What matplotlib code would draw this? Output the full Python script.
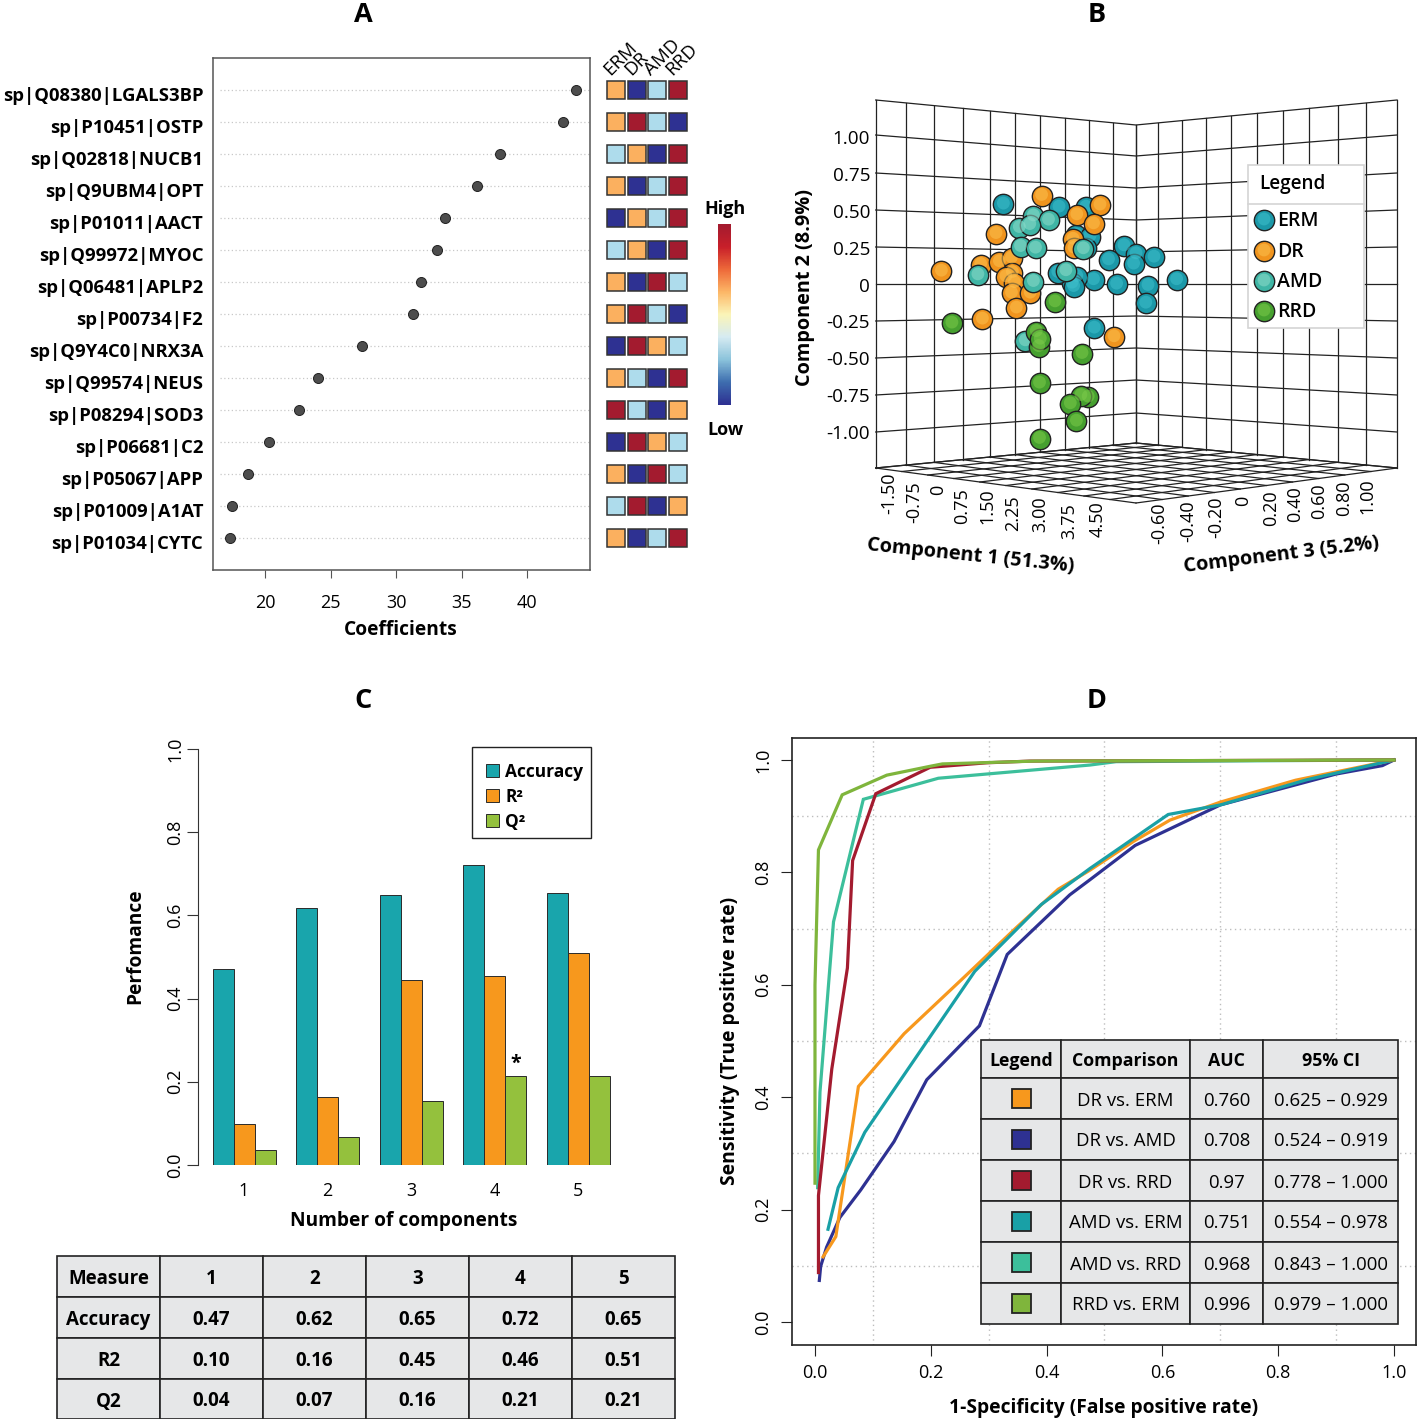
import numpy as np
import matplotlib
matplotlib.use('Agg')
import matplotlib.pyplot as plt
from matplotlib.colors import LinearSegmentedColormap
from matplotlib.patches import Rectangle
from matplotlib.transforms import ScaledTranslation

W, H = 1417, 1419
plt.rcParams['font.family'] = ['Open Sans', 'DejaVu Sans']

# panel A
proteins = ['sp|Q08380|LGALS3BP', 'sp|P10451|OSTP', 'sp|Q02818|NUCB1', 'sp|Q9UBM4|OPT', 'sp|P01011|AACT',
            'sp|Q99972|MYOC', 'sp|Q06481|APLP2', 'sp|P00734|F2', 'sp|Q9Y4C0|NRX3A', 'sp|Q99574|NEUS',
            'sp|P08294|SOD3', 'sp|P06681|C2', 'sp|P05067|APP', 'sp|P01009|A1AT', 'sp|P01034|CYTC']
coefficients = [43.74, 42.75, 37.94, 36.2, 33.75, 33.1, 31.9, 31.3, 27.4, 24.05, 22.6, 20.3, 18.7, 17.5, 17.3]
heat_groups = ['ERM', 'DR', 'AMD', 'RRD']
heat_rows = ['OBLR', 'ORLB', 'LOBR', 'OBLR', 'BOLR', 'LOBR', 'OBRL', 'ORLB', 'BROL', 'OLBR',
             'RLBO', 'BROL', 'OBRL', 'LRBO', 'OBLR']
heat_colors = {'O': '#fbb05f', 'B': '#2e3192', 'L': '#aedcec', 'R': '#a31b2f'}

# panel B, first value of each pair is the position along the flattened picture
erm_h = [1003.4, 1059, 1086, 1076, 1090, 1086, 1124, 1108.5, 1136, 1133.6, 1154, 1176.6, 1148, 1145.8, 1116.6,
         1093.5, 1076.8, 1072, 1073.6, 1057.8, 1094.3]
erm_c2 = [.544, .523, .523, .336, .324, .245, .261, .166, .207, .137, .184, .031, -.008, -.128, .001,
          .031, .053, .008, -.015, .08, -.297]
dr_h = [1041.6, 1100, 1076.8, 1093.5, 996, 1073, 1074, 941.4, 980.7, 999.4, 1011.5, 1012.4, 1005.9, 1014.4,
        1011.5, 1030.2, 1016.4, 982.4, 1114]
dr_c2 = [.602, .537, .471, .41, .344, .306, .245, .089, .134, .153, .178, .08, .051, .012,
         -.06, -.06, -.161, -.236, -.356]
amd_h = [1033.4, 1048.5, 1019.3, 1029.8, 1020.5, 1035.5, 1083.3, 977.9, 1065.9, 1033.4, 1025.3]
amd_c2 = [.464, .435, .385, .405, .256, .245, .241, .064, .092, .019, -.383]
rrd_h = [1055, 951.9, 1036.3, 1038.7, 1040.3, 1082, 1039.5, 1088.2, 1080.9, 1070.3, 1076.4, 1039.5]
rrd_c2 = [-.119, -.263, -.32, -.422, -.372, -.469, -.67, -.765, -.754, -.81, -.928, -1.045]
c2_ticks = [1, .75, .5, .25, 0, -.25, -.5, -.75, -1]
c2_labels = ['1.00', '0.75', '0.50', '0.25', '0', '-0.25', '-0.50', '-0.75', '-1.00']
c1_labels = ['-1.50', '-0.75', '0', '0.75', '1.50', '2.25', '3.00', '3.75', '4.50']
c3_labels = ['-0.60', '-0.40', '-0.20', '0', '0.20', '0.40', '0.60', '0.80', '1.00']

# panel C
components = [1, 2, 3, 4, 5]
accuracy = [.47, .617, .65, .72, .653]
r2 = [.098, .163, .445, .455, .51]
q2 = [.037, .068, .155, .213, .213]
table_c = [['Measure', '1', '2', '3', '4', '5'],
           ['Accuracy', '0.47', '0.62', '0.65', '0.72', '0.65'],
           ['R2', '0.10', '0.16', '0.45', '0.46', '0.51'],
           ['Q2', '0.04', '0.07', '0.16', '0.21', '0.21']]

# panel D
dr_erm_x = [.014, .036, .075, .154, .256, .348, .42, .475, .55, .613, .7, .83, 1]
dr_erm_y = [.116, .152, .419, .513, .612, .702, .77, .804, .855, .893, .925, .964, 1]
dr_amd_x = [.0075, .0098, .02, .043, .079, .1365, .193, .284, .332, .44, .475, .553, .7, .9, .98, 1]
dr_amd_y = [.074, .099, .133, .186, .235, .321, .431, .527, .654, .76, .787, .848, .92, .975, .99, 1]
dr_rrd_x = [.006, .006, .029, .056, .065, .105, .199, .297, .371, 1]
dr_rrd_y = [.088, .225, .45, .63, .821, .94, .987, .995, .998, 1]
amd_erm_x = [.0225, .04, .086, .276, .391, .475, .61, .7, .85, 1]
amd_erm_y = [.165, .239, .3375, .624, .743, .807, .903, .92, .965, 1]
amd_rrd_x = [.0046, .0086, .032, .0835, .213, .475, .52, 1]
amd_rrd_y = [.239, .409, .712, .93, .9675, .991, .997, 1]
rrd_erm_x = [0, 0, .006, .047, .124, .2, .22, .38, 1]
rrd_erm_y = [.247, .6, .84, .938, .973, .989, .993, .998, 1]
table_d = [['Legend', 'Comparison', 'AUC', '95% CI'],
           ['', 'DR vs. ERM', '0.760', '0.625 – 0.929'],
           ['', 'DR vs. AMD', '0.708', '0.524 – 0.919'],
           ['', 'DR vs. RRD', '0.97', '0.778 – 1.000'],
           ['', 'AMD vs. ERM', '0.751', '0.554 – 0.978'],
           ['', 'AMD vs. RRD', '0.968', '0.843 – 1.000'],
           ['', 'RRD vs. ERM', '0.996', '0.979 – 1.000']]


def px_axes(left, top, right, bottom):
    return fig.add_axes([left/W, 1-bottom/H, (right-left)/W, (bottom-top)/H])


def fill_table(ax, rows, col_widths, row_heights, size):
    ax.axis('off')
    tab = ax.table(cellText=rows, colWidths=col_widths, cellLoc='center', bbox=[0, 0, 1, 1])
    tab.auto_set_font_size(False)
    for (r, c), cell in tab.get_celld().items():
        cell.set_height(row_heights[r])
        cell.set_facecolor('#e6e7e8')
        cell.set_edgecolor('#222222')
        cell.set_linewidth(1.2)
        cell.get_text().set_fontsize(size)
        cell.get_text().set_verticalalignment('center_baseline')
    return tab


def spheres(ax, xs, ys, color, light, zorder):
    ys = np.array(ys)
    ax.scatter(xs, ys, s=215, c=color, edgecolors='#222222', linewidths=1.0, zorder=zorder)
    ax.scatter(xs, ys+.008, s=85, c=light, edgecolors='none', alpha=.55, zorder=zorder)


fig = plt.figure(figsize=(W/100, H/100), dpi=100)
over = fig.add_axes([0, 0, 1, 1], zorder=10)
over.set_xlim(0, W)
over.set_ylim(H, 0)
over.axis('off')
top = fig.add_axes([0, 0, 1, 1], zorder=13)
top.set_xlim(0, W)
top.set_ylim(H, 0)
top.axis('off')

for letter, x, y in [('A', 363, 15), ('B', 1097, 15), ('C', 363, 701), ('D', 1097, 701)]:
    over.text(x, y, letter, fontsize=19.5, fontweight='bold', ha='center', va='center')

# A: dot chart
ax = px_axes(213, 58, 590, 570)
rows = np.arange(15, 0, -1)
ax.hlines(rows, 16.6, 44.8, colors='#c8c8c8', linewidth=.9, linestyles=(0, (1, 2)), zorder=1)
ax.scatter(coefficients, rows, s=52, c='#4d4d4d', edgecolors='#222222', linewidths=.7, zorder=3)
ax.set_xlim(16.03, 44.8)
ax.set_ylim(0, 16)
ax.set_xticks([20, 25, 30, 35, 40])
ax.set_yticks(rows)
ax.set_yticklabels(proteins, fontsize=13.3, fontweight='bold')
ax.tick_params(axis='y', length=0, pad=7)
down = ScaledTranslation(0, -4/100, fig.dpi_scale_trans)
for lab in ax.get_yticklabels():
    lab.set_transform(lab.get_transform()+down)
ax.tick_params(axis='x', labelsize=13, length=6, color='#555555', pad=11)
for s in ax.spines.values():
    s.set_color('#555555')
    s.set_linewidth(1.1)
over.text(401, 630, 'Coefficients', fontsize=13.8, fontweight='bold', ha='center', va='center')

heat = px_axes(606, 58, 688, 570)
heat.set_xlim(606, 688)
heat.set_ylim(0, 16)
heat.axis('off')
heat_x = [616, 636.5, 657, 678]
for row, codes in zip(rows, heat_rows):
    for hx, code in zip(heat_x, codes):
        heat.add_patch(Rectangle((hx-9, row-.28), 18, .56, facecolor=heat_colors[code],
                                 edgecolor='#333333', linewidth=1.1))
for hx, name in zip(heat_x, heat_groups):
    over.text(hx-3, 79, name, fontsize=13.5, rotation=45, rotation_mode='anchor', ha='left', va='bottom')

cbar = px_axes(718, 224, 731, 405)
cmap = LinearSegmentedColormap.from_list('hl', ['#2e3192', '#3f6fb0', '#8cc4dc', '#d6ebf2', '#fbf5b8',
                                                '#fdb767', '#ee6a3a', '#c9202a', '#a31b2f'])
cbar.imshow(np.linspace(1, 0, 200)[:, None], aspect='auto', cmap=cmap)
cbar.axis('off')
over.text(725, 209, 'High', fontsize=13, fontweight='bold', ha='center', va='center')
over.text(725, 430, 'Low', fontsize=13, fontweight='bold', ha='center', va='center')

# B: flattened 3D box
lx = [875.7, 905.7, 934, 962.5, 989.7, 1015, 1040, 1065, 1089, 1112.5, 1136]
rx = [1136, 1158, 1181.5, 1206, 1231, 1257, 1283, 1309, 1337.6, 1366, 1397]
left_y = [100, 135, 173, 210, 247, 284, 321, 358, 395, 432, 468]
mid_y = [125, 156, 188, 220, 252, 284, 316, 348, 380, 413, 443]
wall = dict(color='#222222', linewidth=.9, zorder=1)
for ly, my in zip(left_y, mid_y):
    over.plot([875.7, 1136, 1397], [ly, my, ly], **wall)
for x in lx:
    t = (x-875.7)/260.3
    over.plot([x, x], [100+25*t, 468-25*t], **wall)
for x in rx:
    t = (1397-x)/261
    over.plot([x, x], [100+25*t, 468-25*t], **wall)
for i in range(11):
    t = (lx[i]-875.7)/260.3
    u = i/10
    over.plot([lx[i], 1136+261*u], [468-25*t, 503-35*u], **wall)
    t = (rx[i]-1136)/261
    over.plot([rx[i], 875.7+260.3*u], [443+25*t, 468+35*u], **wall)

bx = px_axes(860, 100, 1410, 468)
bx.patch.set_alpha(0)
bx.set_zorder(11)
bx.set_xlim(860, 1410)
bx.set_ylim(-1.2441, 1.2508)
bx.axis('off')
spheres(bx, erm_h, erm_c2, '#1b98a8', '#3fc0cc', 3)
spheres(bx, dr_h, dr_c2, '#f0941e', '#fbc04f', 4)
spheres(bx, amd_h, amd_c2, '#3fb5a5', '#8fdccb', 5)
spheres(bx, rrd_h, rrd_c2, '#46a02f', '#7ccb4a', 6)
for v, lab in zip(c2_ticks, c2_labels):
    over.text(870, 286.5-147.5*v, lab, fontsize=13.6, ha='right', va='center')

c1_x = [889, 914, 938, 962, 987, 1013, 1040, 1069, 1098]
c1_top = [473, 481, 485, 488, 488, 495, 496, 503, 501]
c3_x = [1159, 1188, 1216, 1243.5, 1271, 1295, 1319, 1344, 1367]
c3_top = [503, 500, 496, 496, 490, 486, 483, 480, 478]
for x, y, lab in zip(c1_x, c1_top, c1_labels):
    over.text(x, y, lab, fontsize=13, rotation=90, ha='center', va='top')
for x, y, lab in zip(c3_x, c3_top, c3_labels):
    over.text(x, y, lab, fontsize=13, rotation=90, ha='center', va='top')
over.text(971, 556, 'Component 1 (51.3%)', fontsize=14.3, fontweight='bold', rotation=-6, ha='center', va='center')
over.text(1281, 555, 'Component 3 (5.2%)', fontsize=14.3, fontweight='bold', rotation=7, ha='center', va='center')
over.text(805, 288, 'Component 2 (8.9%)', fontsize=14.3, fontweight='bold', rotation=90, ha='center', va='center')

over.add_patch(Rectangle((1248, 165), 116, 163, facecolor='white', edgecolor='#d4d4d4', linewidth=1.2, zorder=20))
over.plot([1248, 1364], [204, 204], color='#d4d4d4', linewidth=1.2, zorder=21)
over.text(1259, 184, 'Legend', fontsize=13.6, fontweight='semibold', ha='left', va='center', zorder=21)
leg_y = [220, 251, 281, 311]
leg_names = ['ERM', 'DR', 'AMD', 'RRD']
leg_cols = [('#1b98a8', '#3fc0cc'), ('#f0941e', '#fbc04f'), ('#3fb5a5', '#8fdccb'), ('#46a02f', '#7ccb4a')]
for y, name, (c, l) in zip(leg_y, leg_names, leg_cols):
    over.scatter([1264], [y], s=215, c=c, edgecolors='#222222', linewidths=1, zorder=22)
    over.scatter([1264], [y-1], s=85, c=l, alpha=.55, edgecolors='none', zorder=22)
    over.text(1277, y+1, name, fontsize=14, fontweight='semibold', ha='left', va='center', zorder=22)

# C: bars
ax = px_axes(198, 749, 620, 1165)
pos = np.array(components, dtype=float)
bar_w = .2515
ax.bar(pos-bar_w, accuracy, bar_w, color='#19a5ac', edgecolor='#2a2a2a', linewidth=.7, label='Accuracy')
ax.bar(pos, r2, bar_w, color='#f7981d', edgecolor='#2a2a2a', linewidth=.7, label='R²')
ax.bar(pos+bar_w, q2, bar_w, color='#94c13d', edgecolor='#2a2a2a', linewidth=.7, label='Q²')
ax.set_xlim(.449, 5.502)
ax.set_ylim(0, 1)
ax.set_xticks(pos)
ax.tick_params(axis='x', length=0, labelsize=13, pad=12)
ax.set_yticks([0, .2, .4, .6, .8, 1])
ax.tick_params(axis='y', labelsize=13, labelrotation=90, length=8, color='#333333', pad=2)
for lab in ax.get_yticklabels():
    lab.set_va('center')
for side in ['top', 'right', 'bottom']:
    ax.spines[side].set_visible(False)
ax.spines['left'].set_color('#333333')
ax.patch.set_alpha(0)
ax.text(pos[3]+bar_w, q2[3]+.005, '*', fontsize=14, fontweight='bold', ha='center', va='bottom')
# frame drawn apart, the entries sit a bit low inside it
leg = ax.legend(loc='upper left', bbox_to_anchor=(276/422, .996), frameon=False,
                prop={'size': 12.5, 'weight': 'bold'}, handlelength=.75, handleheight=.75,
                labelspacing=.4, handletextpad=.35, borderpad=.7, borderaxespad=0)
over.add_patch(Rectangle((472, 747), 119, 91, facecolor='none', edgecolor='#222222', linewidth=1))
over.text(404, 1221, 'Number of components', fontsize=13.8, fontweight='bold', ha='center', va='center')
over.text(135, 946, 'Perfomance', fontsize=13.8, fontweight='bold', rotation=90, ha='center', va='center')

tc = px_axes(57, 1256, 675, 1419)
tab = fill_table(tc, table_c, [103]*6, [41, 41, 41, 40], 13.5)
for cell in tab.get_celld().values():
    cell.get_text().set_fontweight('bold')

# D: ROC curves
ax = px_axes(792, 738, 1416, 1345)
ax.set_xlim(-.0397, 1.038)
ax.set_ylim(-.0409, 1.0391)
ax.set_xticks(np.arange(0, 1.01, .1), minor=True)
ax.set_yticks(np.arange(0, 1.01, .1), minor=True)
ax.grid(which='minor', color='#bdbdbd', linewidth=1, linestyle=(0, (1, 2.5)))
ax.set_axisbelow(True)
curves = [(dr_amd_x, dr_amd_y, '#2e3192'), (dr_erm_x, dr_erm_y, '#f7981d'), (amd_erm_x, amd_erm_y, '#19a0a6'),
          (amd_rrd_x, amd_rrd_y, '#3cbf9b'), (dr_rrd_x, dr_rrd_y, '#a31b2f'), (rrd_erm_x, rrd_erm_y, '#7fb53c')]
for cx, cy, col in curves:
    ax.plot(cx, cy, color=col, linewidth=2.3, solid_joinstyle='miter')
ax.set_xticks([0, .2, .4, .6, .8, 1])
ax.set_yticks([0, .2, .4, .6, .8, 1])
ax.set_xticklabels(['0.0', '0.2', '0.4', '0.6', '0.8', '1.0'])
ax.set_yticklabels(['0.0', '0.2', '0.4', '0.6', '0.8', '1.0'], rotation=90, va='center')
ax.tick_params(axis='both', which='major', labelsize=13, length=8, color='#222222', pad=6)
ax.tick_params(axis='both', which='minor', length=0)
for s in ax.spines.values():
    s.set_linewidth(1.2)
    s.set_color('#222222')
over.text(1104, 1408, '1-Specificity (False positive rate)', fontsize=13.9, fontweight='bold', ha='center', va='center')
over.text(730, 1041, 'Sensitivity (True positive rate)', fontsize=13.9, fontweight='bold', rotation=90, ha='center', va='center')

td = px_axes(981, 1040, 1398, 1324)
td.set_zorder(12)
tab = fill_table(td, table_d, [80, 129, 73, 135], [38, 41, 41, 41, 41, 41, 41], 13.4)
for c in range(4):
    tab[0, c].get_text().set_fontweight('bold')
    tab[0, c].get_text().set_fontsize(12.8)
swatch_y = [1098, 1139, 1180, 1221, 1262, 1303]
swatch_c = ['#f7981d', '#2e3192', '#a31b2f', '#19a0a6', '#3cbf9b', '#7fb53c']
for y, col in zip(swatch_y, swatch_c):
    top.add_patch(Rectangle((1012, y-9), 19, 19, facecolor=col, edgecolor='#222222', linewidth=1.3))

fig.savefig('out.png', dpi=100)
